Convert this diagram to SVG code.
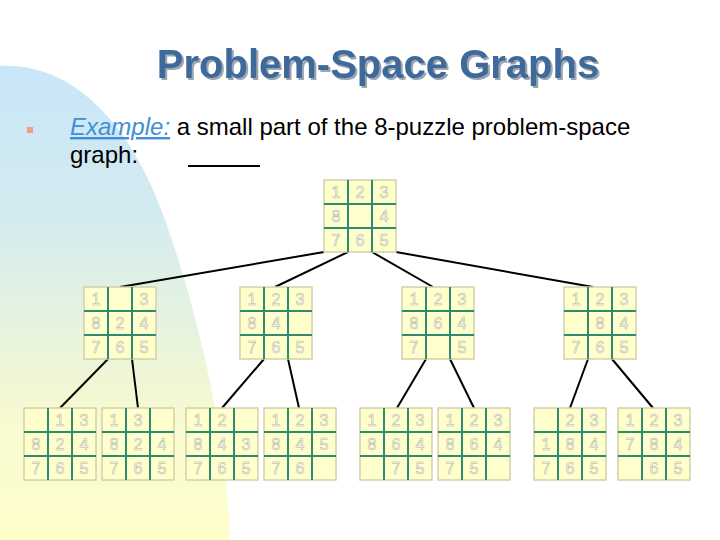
<svg xmlns="http://www.w3.org/2000/svg" xmlns:xlink="http://www.w3.org/1999/xlink" width="720" height="540" viewBox="0 0 720 540">
<style>
.title{font-family:"Liberation Sans",Arial,sans-serif;font-weight:bold;font-size:40px;text-anchor:middle}
.body{font-family:"Liberation Sans",Arial,sans-serif;font-size:24px;fill:#000}
.d{font-family:"Liberation Sans",Arial,sans-serif;font-size:16px;fill:#fffff6;stroke:#b4b4a6;stroke-width:0.55;text-anchor:middle}
.edge{stroke:#000;stroke-width:2;fill:none}
</style>
<defs>
<linearGradient id="bg" x1="0" y1="66" x2="0" y2="540" gradientUnits="userSpaceOnUse">
<stop offset="0" stop-color="#c9e6f9"/>
<stop offset="0.3" stop-color="#d3ebf0"/>
<stop offset="0.55" stop-color="#e6f3de"/>
<stop offset="0.75" stop-color="#f8fad0"/>
<stop offset="1" stop-color="#ffffcc"/>
</linearGradient>
<filter id="shadow" x="-5%" y="-20%" width="110%" height="140%">
<feDropShadow dx="2" dy="2" stdDeviation="0.3" flood-color="#9da6b0" flood-opacity="1"/>
</filter>
<g id="board">
<rect x="0" y="0" width="72" height="72" fill="#ffffcc" stroke="#d4d0ac" stroke-width="1.5"/>
<path d="M24 0V72M48 0V72M0 24H72M0 48H72" stroke="#2f8a72" stroke-width="2" fill="none"/>
</g>
</defs>
<rect width="720" height="540" fill="#fff"/>
<path d="M0,66 C70,62 130,120 165,220 C195,305 225,420 230,540 L0,540 Z" fill="url(#bg)"/>
<text class="title" x="378" y="78" fill="#3d6a9b" filter="url(#shadow)">Problem-Space Graphs</text>
<rect x="27" y="127" width="6" height="6" fill="#f0a080"/>
<text class="body" x="70" y="135"><tspan fill="#3f8fd8" font-style="italic" text-decoration="underline">Example:</tspan> a small part of the 8-puzzle problem-space</text>
<text class="body" x="70" y="163">graph:</text>
<line x1="188" y1="166" x2="260" y2="166" stroke="#000" stroke-width="2"/>
<g id="connectors">
<line class="edge" x1="324" y1="252" x2="120" y2="287"/>
<line class="edge" x1="348" y1="252" x2="275" y2="287"/>
<line class="edge" x1="372" y1="252" x2="433" y2="287"/>
<line class="edge" x1="396" y1="252" x2="593" y2="287"/>
<line class="edge" x1="108" y1="359" x2="60" y2="408"/>
<line class="edge" x1="132" y1="359" x2="138" y2="408"/>
<line class="edge" x1="264" y1="359" x2="222" y2="408"/>
<line class="edge" x1="288" y1="359" x2="299" y2="408"/>
<line class="edge" x1="426" y1="359" x2="397" y2="408"/>
<line class="edge" x1="450" y1="359" x2="474" y2="408"/>
<line class="edge" x1="588" y1="359" x2="570" y2="408"/>
<line class="edge" x1="612" y1="359" x2="653" y2="408"/>
</g>
<g id="root" transform="translate(324,180)"><use xlink:href="#board"/>
<text class="d" x="12" y="18">1</text><text class="d" x="36" y="18">2</text><text class="d" x="60" y="18">3</text>
<text class="d" x="12" y="42">8</text><text class="d" x="60" y="42">4</text>
<text class="d" x="12" y="66">7</text><text class="d" x="36" y="66">6</text><text class="d" x="60" y="66">5</text></g>
<g id="m1" transform="translate(84,287)"><use xlink:href="#board"/>
<text class="d" x="12" y="18">1</text><text class="d" x="60" y="18">3</text>
<text class="d" x="12" y="42">8</text><text class="d" x="36" y="42">2</text><text class="d" x="60" y="42">4</text>
<text class="d" x="12" y="66">7</text><text class="d" x="36" y="66">6</text><text class="d" x="60" y="66">5</text></g>
<g id="m2" transform="translate(240,287)"><use xlink:href="#board"/>
<text class="d" x="12" y="18">1</text><text class="d" x="36" y="18">2</text><text class="d" x="60" y="18">3</text>
<text class="d" x="12" y="42">8</text><text class="d" x="36" y="42">4</text>
<text class="d" x="12" y="66">7</text><text class="d" x="36" y="66">6</text><text class="d" x="60" y="66">5</text></g>
<g id="m3" transform="translate(402,287)"><use xlink:href="#board"/>
<text class="d" x="12" y="18">1</text><text class="d" x="36" y="18">2</text><text class="d" x="60" y="18">3</text>
<text class="d" x="12" y="42">8</text><text class="d" x="36" y="42">6</text><text class="d" x="60" y="42">4</text>
<text class="d" x="12" y="66">7</text><text class="d" x="60" y="66">5</text></g>
<g id="m4" transform="translate(564,287)"><use xlink:href="#board"/>
<text class="d" x="12" y="18">1</text><text class="d" x="36" y="18">2</text><text class="d" x="60" y="18">3</text>
<text class="d" x="36" y="42">8</text><text class="d" x="60" y="42">4</text>
<text class="d" x="12" y="66">7</text><text class="d" x="36" y="66">6</text><text class="d" x="60" y="66">5</text></g>
<g id="b1" transform="translate(24,408)"><use xlink:href="#board"/>
<text class="d" x="36" y="18">1</text><text class="d" x="60" y="18">3</text>
<text class="d" x="12" y="42">8</text><text class="d" x="36" y="42">2</text><text class="d" x="60" y="42">4</text>
<text class="d" x="12" y="66">7</text><text class="d" x="36" y="66">6</text><text class="d" x="60" y="66">5</text></g>
<g id="b2" transform="translate(102,408)"><use xlink:href="#board"/>
<text class="d" x="12" y="18">1</text><text class="d" x="36" y="18">3</text>
<text class="d" x="12" y="42">8</text><text class="d" x="36" y="42">2</text><text class="d" x="60" y="42">4</text>
<text class="d" x="12" y="66">7</text><text class="d" x="36" y="66">6</text><text class="d" x="60" y="66">5</text></g>
<g id="b3" transform="translate(186,408)"><use xlink:href="#board"/>
<text class="d" x="12" y="18">1</text><text class="d" x="36" y="18">2</text>
<text class="d" x="12" y="42">8</text><text class="d" x="36" y="42">4</text><text class="d" x="60" y="42">3</text>
<text class="d" x="12" y="66">7</text><text class="d" x="36" y="66">6</text><text class="d" x="60" y="66">5</text></g>
<g id="b4" transform="translate(264,408)"><use xlink:href="#board"/>
<text class="d" x="12" y="18">1</text><text class="d" x="36" y="18">2</text><text class="d" x="60" y="18">3</text>
<text class="d" x="12" y="42">8</text><text class="d" x="36" y="42">4</text><text class="d" x="60" y="42">5</text>
<text class="d" x="12" y="66">7</text><text class="d" x="36" y="66">6</text></g>
<g id="b5" transform="translate(360,408)"><use xlink:href="#board"/>
<text class="d" x="12" y="18">1</text><text class="d" x="36" y="18">2</text><text class="d" x="60" y="18">3</text>
<text class="d" x="12" y="42">8</text><text class="d" x="36" y="42">6</text><text class="d" x="60" y="42">4</text>
<text class="d" x="36" y="66">7</text><text class="d" x="60" y="66">5</text></g>
<g id="b6" transform="translate(438,408)"><use xlink:href="#board"/>
<text class="d" x="12" y="18">1</text><text class="d" x="36" y="18">2</text><text class="d" x="60" y="18">3</text>
<text class="d" x="12" y="42">8</text><text class="d" x="36" y="42">6</text><text class="d" x="60" y="42">4</text>
<text class="d" x="12" y="66">7</text><text class="d" x="36" y="66">5</text></g>
<g id="b7" transform="translate(534,408)"><use xlink:href="#board"/>
<text class="d" x="36" y="18">2</text><text class="d" x="60" y="18">3</text>
<text class="d" x="12" y="42">1</text><text class="d" x="36" y="42">8</text><text class="d" x="60" y="42">4</text>
<text class="d" x="12" y="66">7</text><text class="d" x="36" y="66">6</text><text class="d" x="60" y="66">5</text></g>
<g id="b8" transform="translate(618,408)"><use xlink:href="#board"/>
<text class="d" x="12" y="18">1</text><text class="d" x="36" y="18">2</text><text class="d" x="60" y="18">3</text>
<text class="d" x="12" y="42">7</text><text class="d" x="36" y="42">8</text><text class="d" x="60" y="42">4</text>
<text class="d" x="36" y="66">6</text><text class="d" x="60" y="66">5</text></g>
</svg>
